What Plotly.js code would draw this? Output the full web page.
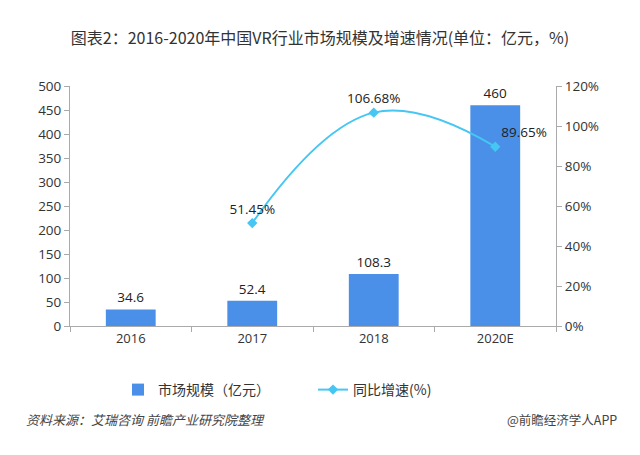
<!DOCTYPE html>
<html><head><meta charset="utf-8">
<script src="https://cdn.plot.ly/plotly-3.0.1.min.js"></script>
<style>html,body{margin:0;padding:0;background:#fff}#c{width:640px;height:455px}</style>
</head><body><div id="c"></div>
<script>
const categories = ['2016','2017','2018','2020E'];
const marketSize = [34.6, 52.4, 108.3, 460];
const growthYears = ['2017','2018','2020E'];
const growthRate = [51.45, 106.68, 89.65];
const yTicks = [0,50,100,150,200,250,300,350,400,450,500];
const y2Ticks = [0,20,40,60,80,100,120];

const fnt = 'Open Sans, Noto Sans CJK SC, sans-serif';
const cjk = 'Noto Sans CJK SC, sans-serif';

const bar = {
  type:'bar', x:categories, y:marketSize, name:'市场规模（亿元）',
  marker:{color:'#4a8fe8'}, width:0.41,
  text:marketSize.map(v=>String(v)), textposition:'outside', cliponaxis:false,
  textfont:{family:fnt,size:13.5,color:'#222'}
};
const line = {
  type:'scatter', mode:'lines+markers+text', x:growthYears, y:growthRate, yaxis:'y2',
  name:'同比增速(%)',
  line:{color:'#45c6f3',width:2,shape:'spline',smoothing:1.2},
  marker:{symbol:'diamond',size:8,color:'#45c6f3'},
  text:growthRate.map(v=>v.toFixed(2)+'%'),
  textposition:['top center','top center','top right'],
  cliponaxis:false,
  textfont:{family:fnt,size:13.5,color:'#222'}
};
const layout = {
  width:640, height:455,
  margin:{l:70,r:84,t:86,b:129},
  paper_bgcolor:'#fff', plot_bgcolor:'#fff',
  showlegend:true,
  legend:{orientation:'h',x:0.5,xanchor:'center',y:-0.2,yanchor:'top',entrywidth:150,font:{family:cjk,size:14,color:'#333'}},
  title:{text:'图表2：2016-2020年中国VR行业市场规模及增速情况(单位：亿元，%)',x:0.5,xanchor:'center',y:0.915,yanchor:'middle',font:{family:cjk,size:16,color:'#333'}},
  xaxis:{type:'category',tickson:'boundaries',ticks:'outside',ticklen:5,tickcolor:'#aaa',showline:true,linecolor:'#aaa',showgrid:false,tickfont:{family:fnt,size:13,color:'#333'}},
  yaxis:{range:[0,500],tickvals:yTicks,ticks:'outside',ticklen:5,tickcolor:'#aaa',showline:true,linecolor:'#aaa',showgrid:false,zeroline:false,tickfont:{family:fnt,size:13.5,color:'#333'}},
  yaxis2:{overlaying:'y',side:'right',range:[0,120],tickvals:y2Ticks,ticktext:y2Ticks.map(v=>v+'%'),ticks:'outside',ticklen:5,tickcolor:'#aaa',showline:true,linecolor:'#aaa',showgrid:false,zeroline:false,tickfont:{family:fnt,size:13.5,color:'#333'}},
  annotations:[
    {text:'<i>资料来源：艾瑞咨询 前瞻产业研究院整理</i>',xref:'paper',yref:'paper',x:-0.095,y:-0.39,xanchor:'left',yanchor:'middle',showarrow:false,font:{family:cjk,size:13,color:'#444'}},
    {text:'@前瞻经济学人APP',xref:'paper',yref:'paper',x:1.13,y:-0.39,xanchor:'right',yanchor:'middle',showarrow:false,font:{family:cjk,size:12.5,color:'#444'}}
  ]
};
Plotly.newPlot('c',[bar,line],layout,{displayModeBar:false,staticPlot:true});
</script></body></html>
